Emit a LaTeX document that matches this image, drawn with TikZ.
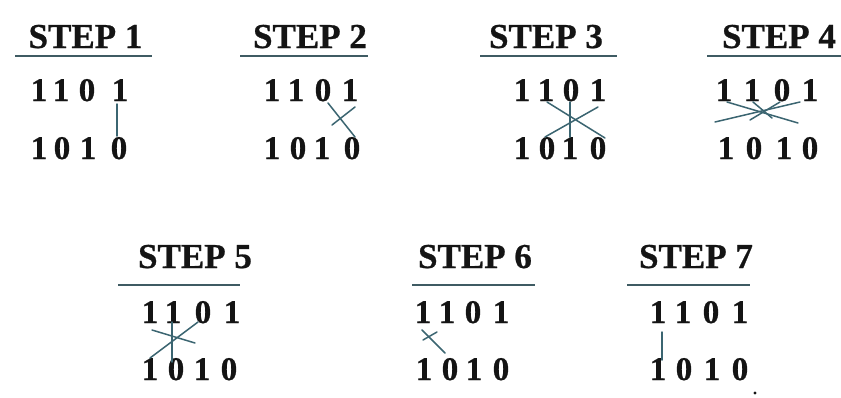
\documentclass[tikz,border=0pt]{standalone}
\usepackage{fontspec}
\setmainfont{Liberation Serif}
\newfontfamily\heavy[BoldFont={Liberation Serif Bold},BoldFeatures={FakeBold=0.7}]{Liberation Serif}
\definecolor{ink}{HTML}{141414}
\definecolor{rulec}{HTML}{3F5B63}
\definecolor{markc}{HTML}{3B6571}
\begin{document}
\begin{tikzpicture}[x=1pt,y=-1pt,
  title/.style={font=\heavy\fontsize{35}{35}\selectfont\bfseries, anchor=base, inner sep=0pt, text=ink},
  digit/.style={font=\heavy\fontsize{33}{33}\selectfont\bfseries, anchor=base, inner sep=0pt, text=ink},
  rulebar/.style={line width=2pt, draw=rulec},
  stroke/.style={line width=1.5pt, draw=markc, line cap=round}]
\useasboundingbox[fill=white] (0,0) rectangle (841,397);

% titles
\node[title] (t1) at (85.5,48) {STEP 1};
\node[title] (t2) at (310,48) {STEP 2};
\node[title] (t3) at (546,48) {STEP 3};
\node[title] (t4) at (779,48) {STEP 4};
\node[title] (t5) at (195,268) {STEP 5};
\node[title] (t6) at (475,268) {STEP 6};
\node[title] (t7) at (696,268) {STEP 7};

% underlines
\draw[rulebar] (15,56) -- (152,56);
\draw[rulebar] (240,56) -- (368,56);
\draw[rulebar] (480,56) -- (617,56);
\draw[rulebar] (707,56) -- (841,56);
\draw[rulebar] (118,285) -- (240,285);
\draw[rulebar] (412,285) -- (535,285);
\draw[rulebar] (627,285) -- (750,285);

% digits: a = 1101 (top), b = 1010 (bottom)
\foreach \s/\ya/\yb/\xa/\xb in {
  1/101/159/{39,61,87,120}/{39,62,88,119},
  2/101/159/{272,296,323,350}/{272,298,322,352},
  3/101/159/{522,546,571,598}/{522,547,570,598},
  4/101/159/{724,752,782,810}/{726,754,784,810},
  5/323/380/{150,173,203,232}/{150,176,202,229},
  6/323/380/{423,447,473,501}/{424,450,474,501},
  7/323/380/{658,683,711,740}/{658,684,712,740}}{
  \foreach \x [count=\i] in \xa {
    \pgfmathsetmacro\d{{"1","1","0","1"}[\i-1]}
    \node[digit] (s\s a\i) at (\x,\ya) {\d};
  }
  \foreach \x [count=\i] in \xb {
    \pgfmathsetmacro\d{{"1","0","1","0"}[\i-1]}
    \node[digit] (s\s b\i) at (\x,\yb) {\d};
  }
}

% hand-drawn cross-product strokes
\draw[stroke] (117,104) -- (117,136);
\draw[stroke] (328,103) -- (355,137);
\draw[stroke] (332,125) -- (355,107);
\draw[stroke] (570,102) -- (570,137);
\draw[stroke] (547,102) -- (605,138);
\draw[stroke] (545,137) -- (598,107);
\draw[stroke] (715,122) -- (800,102);
\draw[stroke] (727,102) -- (798,123);
\draw[stroke] (750,120) -- (780,102);
\draw[stroke] (753,102) -- (772,118);
\draw[stroke] (172,322) -- (172,362);
\draw[stroke] (150,358) -- (198,322);
\draw[stroke] (152,330) -- (195,343);
\draw[stroke] (422,330) -- (445,353);
\draw[stroke] (423,340) -- (437,332);
\draw[stroke] (662,332) -- (662,360);
\fill[ink] (755,393) circle (1.6);
\end{tikzpicture}
\end{document}
